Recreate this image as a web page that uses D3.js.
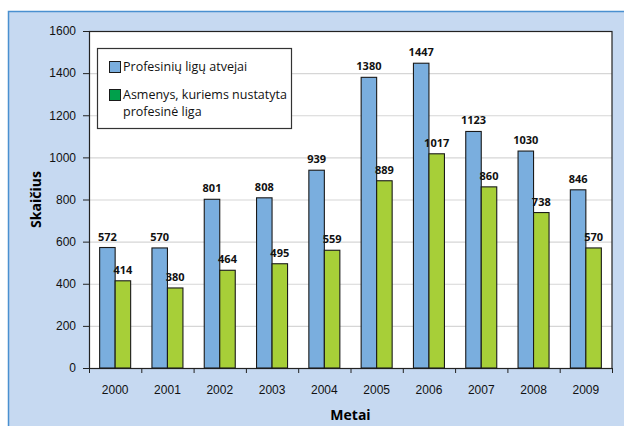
<!DOCTYPE html>
<html>
<head>
<meta charset="utf-8">
<script src="https://cdnjs.cloudflare.com/ajax/libs/d3/7.8.5/d3.min.js"></script>
<style>
  body { margin: 0; background: #fff; }
  svg { display: block; font-family: "Open Sans", "Noto Sans", sans-serif; }
</style>
</head>
<body>
<svg id="chart" width="624" height="426"></svg>
<script>
const years = ['2000', '2001', '2002', '2003', '2004', '2005', '2006', '2007', '2008', '2009'];
const atvejai = [572, 570, 801, 808, 939, 1380, 1447, 1123, 1030, 846];
const asmenys = [414, 380, 464, 495, 559, 889, 1017, 860, 738, 570];
const yTicks = [0, 200, 400, 600, 800, 1000, 1200, 1400, 1600];
const seriesNames = ['Profesinių ligų atvejai', 'Asmenys, kuriems nustatyta\nprofesinė liga'];

const width = 624;
const height = 426;
const paddingLeft = 89;
const paddingRight = 12;
const paddingTop = 31;
const paddingBottom = 58;

const svg = d3.select('#chart');

// outer light blue panel
svg.append('rect')
  .attr('x', 8.5).attr('y', 11.5)
  .attr('width', 640).attr('height', 440)
  .attr('fill', '#c6d9f1')
  .attr('stroke', '#4a90d0')
  .attr('stroke-width', 1.5);

const plotW = width - paddingLeft - paddingRight;
const plotH = height - paddingTop - paddingBottom;

const xScale = d3.scaleBand()
  .domain(years)
  .range([0, plotW])
  .paddingInner(0)
  .paddingOuter(0);

const groupPad = (xScale.bandwidth() - 31) / 2;
const xInner = d3.scaleBand()
  .domain(['a', 'b'])
  .range([groupPad, xScale.bandwidth() - groupPad]);

const yScale = d3.scaleLinear()
  .domain([0, 1600])
  .range([plotH, 0]);

const g = svg.append('g')
  .attr('transform', `translate(${paddingLeft}, ${paddingTop})`);

g.append('rect')
  .attr('width', plotW).attr('height', plotH)
  .attr('fill', '#fff');

// gridlines
g.selectAll('.grid')
  .data(yTicks.filter((d) => d > 0 && d < 1600))
  .enter().append('line')
  .attr('class', 'grid')
  .attr('x1', 0).attr('x2', plotW)
  .attr('y1', (d) => yScale(d) + 0.5).attr('y2', (d) => yScale(d) + 0.5)
  .attr('stroke', '#d6d6d6')
  .attr('stroke-width', 1.2);

g.append('rect')
  .attr('x', 0.5).attr('y', 0.5)
  .attr('width', plotW - 0.5).attr('height', plotH)
  .attr('fill', 'none')
  .attr('stroke', '#222')
  .attr('stroke-width', 1.2);

const rows = years.map((y, i) => ({ year: y, a: atvejai[i], b: asmenys[i] }));
const colors = { a: '#7aaede', b: '#a7cf38' };

const groups = g.selectAll('.year')
  .data(rows)
  .enter().append('g')
  .attr('transform', (d) => `translate(${xScale(d.year)}, 0)`);

['a', 'b'].forEach((key) => {
  groups.append('rect')
    .attr('x', xInner(key))
    .attr('y', (d) => yScale(d[key]))
    .attr('width', xInner.bandwidth())
    .attr('height', (d) => plotH - yScale(d[key]))
    .attr('fill', colors[key])
    .attr('stroke', '#1a1a1a')
    .attr('stroke-width', 1.1);
});

['a', 'b'].forEach((key) => {
  groups.append('text')
    .attr('x', xInner(key) + xInner.bandwidth() / 2)
    .attr('y', (d) => yScale(d[key]) - 7)
    .attr('text-anchor', 'middle')
    .attr('font-size', 11)
    .attr('font-weight', 'bold')
    .attr('fill', '#111')
    .text((d) => d[key]);
});

// axes
const yAxis = d3.axisLeft(yScale)
  .tickValues(yTicks)
  .tickFormat(d3.format('d'))
  .tickSize(6)
  .tickPadding(7);
const yG = g.append('g').call(yAxis);
yG.select('.domain').remove();
yG.selectAll('text').attr('font-size', 12).attr('fill', '#111').attr('font-family', 'inherit');
yG.selectAll('line').attr('stroke', '#222');

const xAxis = d3.axisBottom(xScale)
  .tickSize(0)
  .tickPadding(17);
const xG = g.append('g')
  .attr('transform', `translate(0, ${plotH})`)
  .call(xAxis);
xG.select('.domain').remove();
xG.selectAll('text').attr('font-size', 12).attr('fill', '#111').attr('font-family', 'inherit');

// tick marks at band boundaries
xG.selectAll('.bound')
  .data(d3.range(years.length + 1))
  .enter().append('line')
  .attr('x1', (i) => i * xScale.step() + 0.5)
  .attr('x2', (i) => i * xScale.step() + 0.5)
  .attr('y1', 0).attr('y2', 5)
  .attr('stroke', '#222');

svg.append('text')
  .attr('x', paddingLeft + plotW / 2)
  .attr('y', 420)
  .attr('text-anchor', 'middle')
  .attr('font-size', 14)
  .attr('font-weight', 'bold')
  .text('Metai');

svg.append('text')
  .attr('transform', `translate(41, ${paddingTop + plotH / 2}) rotate(-90)`)
  .attr('text-anchor', 'middle')
  .attr('font-size', 14)
  .attr('font-weight', 'bold')
  .text('Skaičius');

// legend
const legend = svg.append('g').attr('transform', 'translate(97, 48)');
legend.append('rect')
  .attr('x', 0.5).attr('y', 0.5)
  .attr('width', 194).attr('height', 80)
  .attr('fill', '#fff')
  .attr('stroke', '#333')
  .attr('stroke-width', 1.2);

const legendSwatch = ['#7aaede', '#00a04b'];
seriesNames.forEach((name, i) => {
  const ly = 13 + i * 28;
  legend.append('rect')
    .attr('x', 12.5).attr('y', ly + 0.5)
    .attr('width', 11).attr('height', 11)
    .attr('fill', legendSwatch[i])
    .attr('stroke', '#1a1a1a');
  name.split('\n').forEach((line, j) => {
    legend.append('text')
      .attr('x', 26)
      .attr('y', ly + 10 + j * 17)
      .attr('font-size', 12.5)
      .attr('fill', '#111')
      .text(line);
  });
});
</script>
</body>
</html>
